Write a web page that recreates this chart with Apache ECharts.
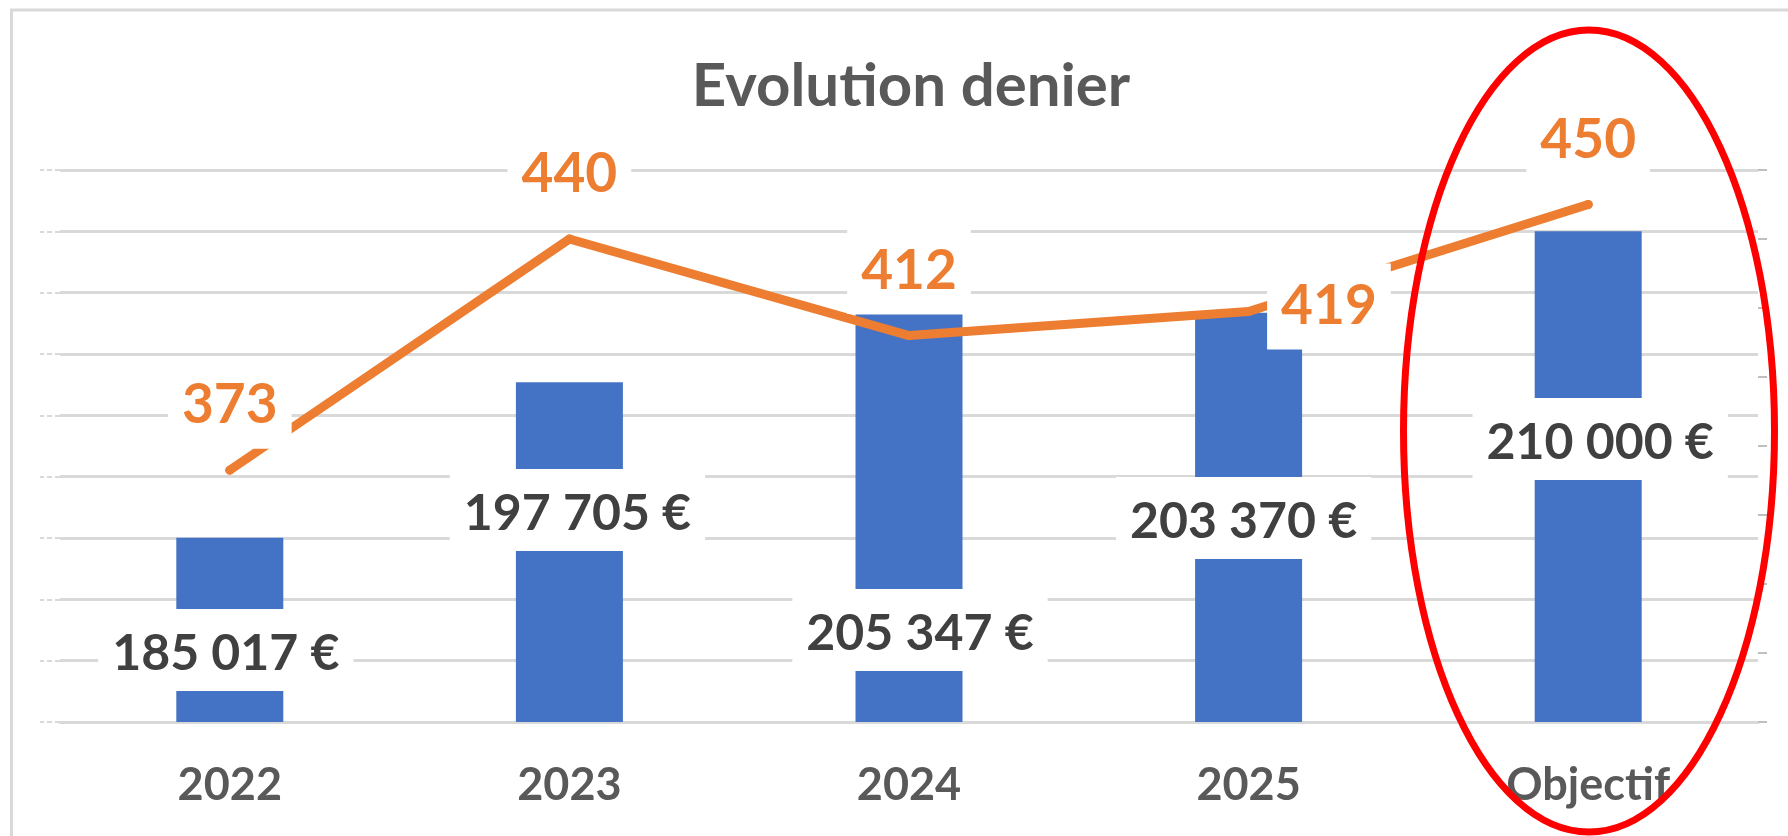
<!DOCTYPE html>
<html>
<head>
<meta charset="utf-8">
<title>Evolution denier</title>
<script src="https://cdn.jsdelivr.net/npm/echarts@6/dist/echarts.min.js"></script>
<style>
    html, body { margin: 0; padding: 0; background: #ffffff; }
    #main { width: 1788px; height: 836px; }
</style>
</head>
<body>
<div id="main"></div>
<script>
// categories and values
var categories = ['2022', '2023', '2024', '2025', 'Objectif'];
var montants = [185017, 197705, 203230, 203370, 210000];
var montantLabels = ['185 017 €', '197 705 €', '205 347 €', '203 370 €', '210 000 €'];
var deniers = [373, 440, 412, 419, 450];

var myChart = echarts.init(document.getElementById('main'));

// bar labels were moved by hand in the original, keep that
var barLabelShift = [[-4, -31], [8, -171], [11, -51], [-5, -163], [12, -242]];

var barData = montants.map(function (v, i) {
    return {
        value: v,
        label: { offset: barLabelShift[i] }
    };
});

var lineData = deniers.map(function (v, i) {
    if (i === 3) {
        return { value: v, label: { position: 'right', distance: 14, offset: [0, -5] } };
    }
    return { value: v };
});

var option = {
    backgroundColor: '#ffffff',
    animation: false,
    title: {
        text: 'Evolution denier',
        left: 906,
        textAlign: 'center',
        top: 52,
        textStyle: {
            fontFamily: 'Lato',
            fontWeight: 'bold',
            fontSize: 60,
            color: '#595959'
        }
    },
    grid: {
        left: 60,
        right: 30,
        top: 170,
        bottom: 114,
        containLabel: false,
        outerBoundsMode: 'none'
    },
    xAxis: [{
        type: 'category',
        data: categories,
        axisTick: { show: false },
        axisLine: { lineStyle: { color: '#d9d9d9', width: 3 } },
        axisLabel: {
            margin: 38,
            fontFamily: 'Lato',
            fontWeight: 'bold',
            fontSize: 45,
            lineHeight: 50,
            color: '#595959'
        }
    }],
    yAxis: [
        {
            type: 'value',
            min: 170000,
            max: 215000,
            interval: 5000,
            axisLine: { show: false },
            axisLabel: { show: false },
            axisTick: { show: true, length: 20, lineStyle: { color: '#d9d9d9', width: 2, type: [5, 3] } },
            splitLine: { lineStyle: { color: '#d9d9d9', width: 3 } }
        },
        {
            type: 'value',
            position: 'right',
            min: 300,
            max: 460,
            interval: 20,
            axisLine: { show: false },
            axisLabel: { show: false },
            axisTick: { show: true, length: 9, lineStyle: { color: '#bfbfbf', width: 2 } },
            splitLine: { show: false }
        }
    ],
    series: [
        {
            name: 'Montant',
            type: 'bar',
            data: barData,
            barWidth: 107,
            itemStyle: { color: '#4472c4' },
            label: {
                show: true,
                position: 'insideBottom',
                distance: 0,
                formatter: function (p) { return montantLabels[p.dataIndex]; },
                fontFamily: 'Lato',
                fontWeight: 'bold',
                fontSize: 50,
                lineHeight: 58,
                color: '#404040',
                backgroundColor: '#ffffff',
                padding: [16, 14, 8, 14]
            }
        },
        {
            name: 'Denier',
            type: 'line',
            yAxisIndex: 1,
            data: lineData,
            symbol: 'circle',
            symbolSize: 9,
            itemStyle: { color: '#ed7d31' },
            lineStyle: { color: '#ed7d31', width: 9, cap: 'round', join: 'round' },
            label: {
                show: true,
                position: 'top',
                distance: 17,
                fontFamily: 'Lato',
                fontWeight: 'bold',
                fontSize: 55,
                lineHeight: 62,
                color: '#ed7d31',
                backgroundColor: '#ffffff',
                padding: [12, 14]
            }
        }
    ],
    graphic: [
        {
            type: 'rect',
            shape: { x: 11.5, y: 10, width: 1800, height: 900 },
            style: { fill: 'none', stroke: '#d9d9d9', lineWidth: 3 },
            silent: true,
            z: 100
        },
        {
            // red circle drawn round the target
            type: 'ellipse',
            shape: { cx: 1589, cy: 431, rx: 185.5, ry: 401 },
            style: { fill: 'none', stroke: '#ff0000', lineWidth: 7 },
            silent: true,
            z: 100
        }
    ]
};

myChart.setOption(option);
</script>
</body>
</html>
